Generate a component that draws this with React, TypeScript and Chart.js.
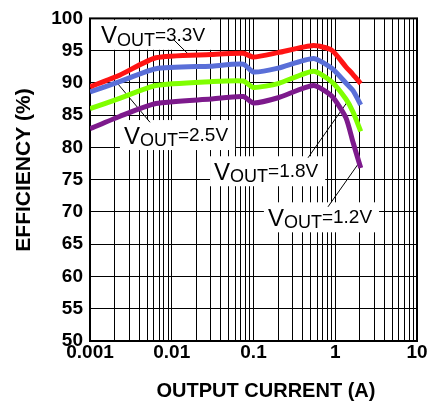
import { useEffect, useRef } from "react";
import { Chart, registerables } from "chart.js";

Chart.register(...registerables);

const FONT = "'Liberation Sans', Arial, Helvetica, sans-serif";

// Output current (A)
const currents = [0.001, 0.0023, 0.0064, 0.03, 0.075, 0.1, 0.2, 0.54, 0.9, 1.35, 1.65, 2.05];
// Efficiency (%) per output voltage
const eff33 = [89.4, 91.2, 93.9, 94.4, 94.6, 94.0, 94.7, 95.8, 95.1, 92.5, 91.3, 89.9];
const eff25 = [88.6, 90.2, 92.2, 92.6, 92.9, 91.7, 92.3, 93.8, 92.3, 90.0, 88.8, 86.6];
const eff18 = [86.0, 87.6, 89.6, 90.2, 90.3, 89.3, 89.9, 91.8, 90.2, 87.5, 85.5, 82.5];
const eff12 = [82.9, 84.8, 86.8, 87.5, 87.9, 86.9, 87.7, 89.6, 88.0, 84.6, 80.8, 76.8];

const seriesValues = [eff33, eff25, eff18, eff12];
const seriesNames = ["3.3V", "2.5V", "1.8V", "1.2V"];
const seriesColors = ["#ff1414", "#5a6fd8", "#80ff00", "#7d1a8c"];

const xMajorTicks = [0.001, 0.01, 0.1, 1, 10];
const xTickLabels = ["0.001", "0.01", "0.1", "1", "10"];
const yMin = 50;
const yMax = 100;
const yStep = 5;

// Annotation anchors (data coordinates): text left / baseline
const labelX = [0.00136, 0.0026, 0.0329, 0.15];
const labelY = [96.53, 80.99, 75.38, 68.24];
// Leader lines (data coordinates)
const leaderFromX = [0.01035, 0.00208, 0.4645, 0.815];
const leaderFromY = [96.8, 90.2, 78.4, 70.8];
const leaderToX = [0.0158, 0.00542, 1.43, 1.9];
const leaderToY = [94.5, 83.9, 87.2, 77.4];

const xTitle = "OUTPUT CURRENT (A)";
const yTitle = "EFFICIENCY (%)";

const annotPlugin = {
  id: "annot",
  beforeDatasetsDraw(chart: any) {
    const { ctx, chartArea: a, scales } = chart;
    const xs = scales.x;
    const ys = scales.y;
    ctx.save();
    const layouts = seriesNames.map((name, i) => {
      const x0 = xs.getPixelForValue(labelX[i]);
      const yb = ys.getPixelForValue(labelY[i]);
      ctx.font = `24px ${FONT}`;
      const wV = ctx.measureText("V").width;
      ctx.font = `18px ${FONT}`;
      const wO = ctx.measureText("OUT").width;
      ctx.font = `19px ${FONT}`;
      const wR = ctx.measureText("=" + name).width;
      return { x0, yb, wV, wO, wR, name };
    });
    // white boxes
    ctx.fillStyle = "#ffffff";
    layouts.forEach((l) => {
      const top = Math.max(a.top, l.yb - 21);
      ctx.fillRect(l.x0 - 4, top, l.wV + l.wO + l.wR + 11, l.yb + 9 - top);
    });
    // frame
    ctx.strokeStyle = "#000000";
    ctx.lineWidth = 2;
    ctx.strokeRect(a.left, a.top, a.right - a.left, a.bottom - a.top);
    // leader lines
    ctx.lineWidth = 1;
    seriesNames.forEach((_, i) => {
      ctx.beginPath();
      ctx.moveTo(xs.getPixelForValue(leaderFromX[i]), ys.getPixelForValue(leaderFromY[i]));
      ctx.lineTo(xs.getPixelForValue(leaderToX[i]), ys.getPixelForValue(leaderToY[i]));
      ctx.stroke();
    });
    // texts
    ctx.fillStyle = "#000000";
    ctx.textAlign = "left";
    ctx.textBaseline = "alphabetic";
    layouts.forEach((l) => {
      ctx.font = `24px ${FONT}`;
      ctx.fillText("V", l.x0, l.yb + 2.5);
      ctx.font = `18px ${FONT}`;
      ctx.fillText("OUT", l.x0 + l.wV, l.yb + 5);
      ctx.font = `19px ${FONT}`;
      ctx.fillText("=" + l.name, l.x0 + l.wV + l.wO, l.yb);
    });
    ctx.restore();
  },
  afterDraw(chart: any) {
    const { ctx } = chart;
    ctx.save();
    ctx.fillStyle = "#000000";
    ctx.font = `bold 20px ${FONT}`;
    ctx.textAlign = "center";
    ctx.textBaseline = "alphabetic";
    ctx.fillText(xTitle, 266, 397);
    ctx.translate(24, 170);
    ctx.rotate(-Math.PI / 2);
    ctx.textBaseline = "middle";
    ctx.font = `bold 21px ${FONT}`;
    ctx.fillText(yTitle, 0, 0);
    ctx.restore();
  },
};

export default function App() {
  const ref = useRef<HTMLCanvasElement | null>(null);

  useEffect(() => {
    if (!ref.current) return;
    const chart = new Chart(ref.current, {
      type: "line",
      data: {
        datasets: seriesValues.map((vals, s) => ({
          label: seriesNames[s],
          data: currents.map((x, i) => ({ x, y: vals[i] })),
          borderColor: seriesColors[s],
          backgroundColor: seriesColors[s],
          borderWidth: 5,
          pointRadius: 0,
          tension: 0.2,
          borderJoinStyle: "round" as const,
          fill: false,
        })),
      },
      options: {
        animation: false,
        responsive: false,
        layout: { padding: { top: 14, right: 22, bottom: 0, left: 0 } },
        plugins: {
          legend: { display: false },
          tooltip: { enabled: false },
        },
        scales: {
          x: {
            type: "logarithmic",
            min: 0.001,
            max: 10,
            afterBuildTicks: (scale: any) => {
              const t: { value: number }[] = [];
              xMajorTicks.forEach((base, d) => {
                t.push({ value: base });
                if (d < xMajorTicks.length - 1) {
                  for (let m = 2; m <= 9; m++) t.push({ value: base * m });
                }
              });
              scale.ticks = t;
            },
            afterFit: (scale: any) => {
              scale.height = 74;
            },
            ticks: {
              autoSkip: false,
              maxRotation: 0,
              minRotation: 0,
              padding: 0,
              color: "#000000",
              font: { family: FONT, size: 19, weight: "bold" },
              callback: (value: any) => {
                const v = Number(value);
                const i = xMajorTicks.findIndex((m) => Math.abs(m - v) / m < 1e-6);
                return i >= 0 ? xTickLabels[i] : "";
              },
            },
            grid: { color: "#000000", lineWidth: 1, drawTicks: false },
            border: { display: false },
          },
          y: {
            type: "linear",
            min: yMin,
            max: yMax,
            afterFit: (scale: any) => {
              scale.width = 90;
            },
            ticks: {
              stepSize: yStep,
              padding: 7,
              color: "#000000",
              font: { family: FONT, size: 19, weight: "bold" },
            },
            grid: { color: "#000000", lineWidth: 1, drawTicks: false },
            border: { display: false },
          },
        },
      },
      plugins: [annotPlugin],
    });
    return () => chart.destroy();
  }, []);

  return (
    <div style={{ position: "fixed", left: 0, top: 0, width: 439, height: 415, background: "#ffffff" }}>
      <canvas ref={ref} width={439} height={415} style={{ display: "block" }} />
    </div>
  );
}
